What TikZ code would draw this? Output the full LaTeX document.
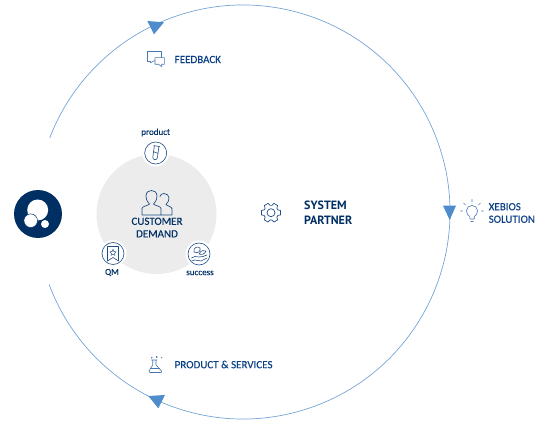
\documentclass[tikz,border=0pt]{standalone}
\usepackage{fontspec}
\setmainfont{Carlito}
\newfontfamily\lc{Carlito}[FakeBold=0.1]
\newfontfamily\hc{PT Sans}
\definecolor{navy}{HTML}{002F63}
\definecolor{txtblue}{HTML}{0A3F86}
\definecolor{arcc}{HTML}{76A4D6}
\definecolor{tip}{HTML}{4F8CCC}
\definecolor{greyc}{HTML}{ECECEC}
\definecolor{icon}{HTML}{1F4E86}
\definecolor{iconl}{HTML}{4A78AE}
\tikzset{
  lbl/.style={text=txtblue,font=\lc\fontsize{11}{12.5}\selectfont,inner sep=0pt,align=left,anchor=west},
  lbls/.style={text=navy,font=\lc\fontsize{9}{10}\selectfont,inner sep=0pt},
  ic/.style={draw=icon,line width=0.6pt,line join=round,line cap=round},
  icl/.style={draw=iconl,line width=0.6pt,line join=round,line cap=round},
  badge/.style={circle,draw=icon,line width=0.6pt,fill=white,minimum size=22pt,inner sep=0pt},
  halo/.style={circle,fill=white,minimum size=27pt,inner sep=0pt},
  tipm/.style={fill=tip,draw=none}
}
\begin{document}
\begin{tikzpicture}[x=1pt,y=-1pt]
\useasboundingbox (0,0) rectangle (550,425);
% outer arc
\coordinate (c) at (243,212);
\draw[arcc,line width=0.7pt] (c) ++(159.5:207) arc[start angle=159.5,end angle=-159,radius=207];
% arrow tips
\fill[tipm] (147.3,21) -- (164,22.3) -- (154,34.3) -- cycle;
\fill[tipm] (443,205.7) -- (456,205.7) -- (449.7,220) -- cycle;
\fill[tipm] (148.3,396) -- (165,395) -- (158.3,408.3) -- cycle;
% logo
\node[circle,fill=navy,minimum size=48pt,inner sep=0pt] (logo) at (38,214) {};
\fill[white] (37.7,210) circle (10.5);
\fill[white,draw=navy,line width=0.5pt] (30.7,220.7) circle (6.8);
\fill[white] (45,224) circle (4);
% grey circle
\node[circle,fill=greyc,minimum size=120pt,inner sep=0pt] (demand) at (156.5,214) {};
% badges
\node[halo] at (155.7,153) {};
\node[halo] at (113,253.5) {};
\node[halo] at (199,254) {};
\node[badge] (bp) at (155.7,153) {};
\node[badge] (bq) at (113,253.5) {};
\node[badge] (bs) at (199,254) {};
% product icon: test tube
\begin{scope}[shift={(155.7,153)},rotate=-8]
\draw[ic] (-3,-7) -- (3,-7) (-2.3,-7) -- (-2.3,4.5) arc[start angle=180,end angle=0,radius=2.3] -- (2.3,-7);
\draw[ic] (-2.3,-1) -- (2.3,0);
\end{scope}
% QM icon: ribbon with star
\draw[ic] (107.5,246.5) -- (118.5,246.5) -- (118.5,261) -- (113,257.5) -- (107.5,261) -- cycle;
\draw[ic,line width=0.45pt] (113,249.3) -- (114,251.6) -- (116.2,251.8) -- (114.6,253.3) -- (115,255.4) -- (113,254.3) -- (111,255.4) -- (111.4,253.3) -- (109.8,251.8) -- (112,251.6) -- cycle;
% success icon: hand and plant
\draw[ic] (191.5,258) -- (195,256.5) -- (199,257) -- (203,256.5) -- (207,255) (191.5,261) -- (195,260) -- (201,261) -- (207,258);
\draw[ic] (194,252) .. controls (193,247) and (198,246) .. (200,248) .. controls (201,251) and (198,254) .. (194,252) -- cycle;
\draw[ic] (199,254) .. controls (201,250) and (204,250) .. (206,251) .. controls (205,254) and (202,255) .. (199,254) -- cycle;
% people icon
\draw[ic,line width=0.7pt] (142,215) -- (142,208.5) .. controls (142,206) and (149,205.5) .. (149.5,204) .. controls (146.5,201) and (146,198) .. (146,196) .. controls (146,192) and (149,190.5) .. (151.5,190.5) .. controls (154,190.5) and (157,192) .. (157,196) .. controls (157,198) and (156.5,201) .. (153.5,204) .. controls (154,205.5) and (161,206) .. (161,208.5) -- (161,215) -- cycle;
\draw[ic,line width=0.7pt] (160,196.5) .. controls (160.5,194.5) and (162,193.5) .. (164,193.5) .. controls (167,193.5) and (169,195.5) .. (169,198) .. controls (169,200.5) and (168,202.5) .. (166,204.5) .. controls (167,206) and (172,206.5) .. (172,209) -- (172,215) -- (161,215);
% feedback icon
\draw[icl] (150.7,62.7) -- (150.7,61) -- (147.3,61) -- (147.3,51.3) -- (161.7,51.3) -- (161.7,57.7);
\draw[icl] (155,61) -- (153.5,61) -- (150.7,62.7);
\draw[icl] (155,57.7) -- (164.3,57.7) -- (164.3,64.3) -- (161.7,64.3) -- (161.7,66.7) -- (158.5,64.3) -- (155,64.3) -- cycle;
% flask icon
\draw[icl] (151.5,360) -- (157,360) (152.7,360) -- (152.7,365) -- (149,371) .. controls (148.6,372) and (149,372.5) .. (150,372.5) -- (160.5,372.5) .. controls (161.5,372.5) and (162,372) .. (161.5,371) -- (156,365) -- (156,360);
\draw[icl] (150.5,368.5) -- (159.5,368.5);
\fill[iconl] (151.7,357.7) circle (0.9) (156.7,357) circle (1) (161.7,357.7) circle (0.7);
% bulb icon
\draw[icl] (469.8,219) -- (469.8,216.5) .. controls (467,214.5) and (466.5,212.5) .. (466.5,210.5) .. controls (466.5,207.5) and (469,205.5) .. (472,205.5) .. controls (475,205.5) and (477.5,207.5) .. (477.5,210.5) .. controls (477.5,212.5) and (477,214.5) .. (474.2,216.5) -- (474.2,219) -- cycle;
\draw[icl] (470.8,221) -- (473.2,221);
\draw[icl] (472,199.5) -- (472,202) (463.5,203) -- (465.3,204.8) (480.5,203) -- (478.7,204.8) (462.5,211) -- (460.5,211) (481.5,211) -- (483.5,211);
% gear icon
\begin{scope}[shift={(271,212.7)}]
\draw[ic,line width=0.7pt] (0,0) circle (4);
\draw[ic,line width=0.7pt] 
  \foreach \a in {0,60,...,300}{
    ({\a-13}:9.8) -- ({\a+13}:9.8) -- ({\a+22}:7.4) -- ({\a+38}:7.4) -- ({\a+47}:9.8)
  };
\end{scope}
% labels
\node[lbls] (tp) at (155.7,132.5) {product};
\node[lbls] (tq) at (112,272.5) {QM};
\node[lbls] (ts) at (200,273) {success};
\node[font=\lc\fontsize{11}{12.5}\selectfont,text=navy,align=center,inner sep=0pt] (td) at (157,227.5) {CUSTOMER\\DEMAND};
\node[lbl] (tf) at (174.5,59.5) {FEEDBACK};
\node[lbl] (tr) at (174.5,364.5) {PRODUCT \& SERVICES};
\node[lbl] (tx) at (488.5,213) {XEBIOS\\SOLUTION};
\node[text=navy,font=\hc\bfseries\fontsize{12}{15}\selectfont,align=left,anchor=west,inner sep=0pt] (ta) at (304,212.5) {SYSTEM\\PARTNER};
\end{tikzpicture}
\end{document}
